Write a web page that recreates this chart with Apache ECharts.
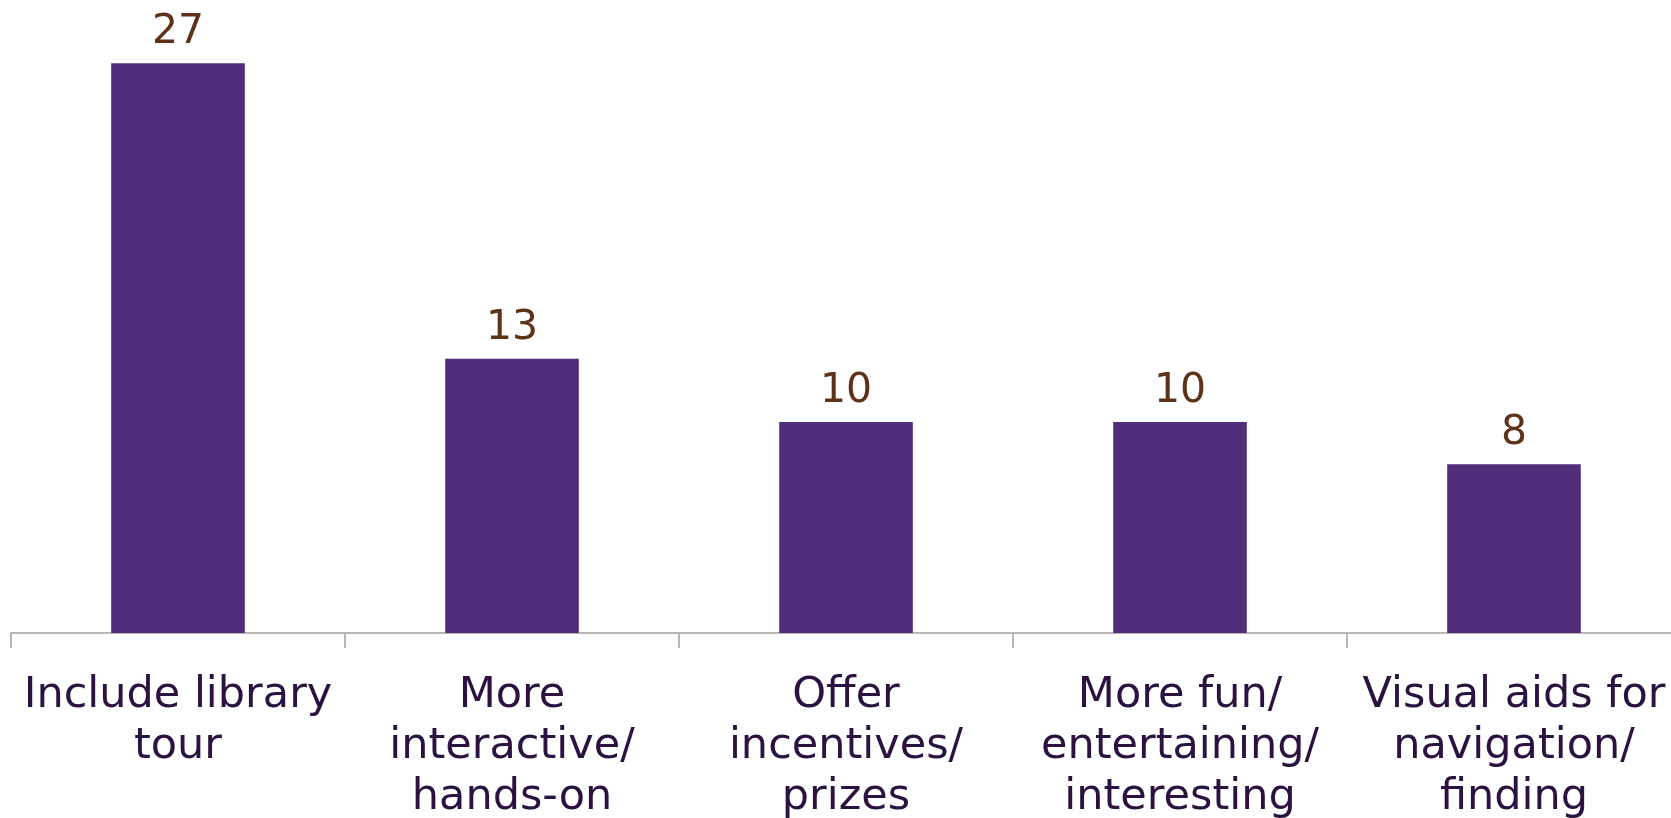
<!DOCTYPE html>
<html>
<head>
<meta charset="utf-8">
<title>Suggested improvements</title>
<script src="https://cdn.jsdelivr.net/npm/echarts@6/dist/echarts.min.js"></script>
<style>
  html, body { margin: 0; padding: 0; background: #ffffff; }
  #chart { width: 1671px; height: 818px; }
</style>
</head>
<body>
<div id="chart"></div>
<script>
// Categories (explicit line breaks for the axis labels)
const categories = [
  'Include library\ntour',
  'More\ninteractive/\nhands-on',
  'Offer\nincentives/\nprizes',
  'More fun/\nentertaining/\ninteresting',
  'Visual aids for\nnavigation/\nfinding'
];
// Number of responses per suggestion
const responses = [27, 13, 10, 10, 8];

const chart = echarts.init(document.getElementById('chart'), null, { renderer: 'canvas' });

chart.setOption({
  animation: false,
  backgroundColor: '#ffffff',
  // plot area runs a little past the right edge of the canvas
  grid: {
    left: 11, width: 1670, top: 0, height: 633,
    containLabel: false,
    outerBoundsMode: 'none'
  },
  xAxis: {
    type: 'category',
    data: categories,
    axisLine: { show: true, lineStyle: { color: '#a59f9c', width: 1.5 } },
    axisTick: { show: true, length: 15, alignWithLabel: false, lineStyle: { color: '#a59f9c', width: 1.5 } },
    axisLabel: {
      interval: 0,
      margin: 37,
      color: '#2b1240',
      fontFamily: 'DejaVu Sans',
      fontSize: 43,
      lineHeight: 51
    },
    splitLine: { show: false }
  },
  yAxis: {
    type: 'value',
    min: 0,
    max: 30,
    show: false
  },
  series: [{
    type: 'bar',
    data: responses,
    barWidth: '40%',
    itemStyle: { color: '#522d7b' },
    label: {
      show: true,
      position: 'top',
      distance: 10,
      color: '#5e3218',
      fontFamily: 'DejaVu Sans',
      fontSize: 41
    }
  }]
});
</script>
</body>
</html>
